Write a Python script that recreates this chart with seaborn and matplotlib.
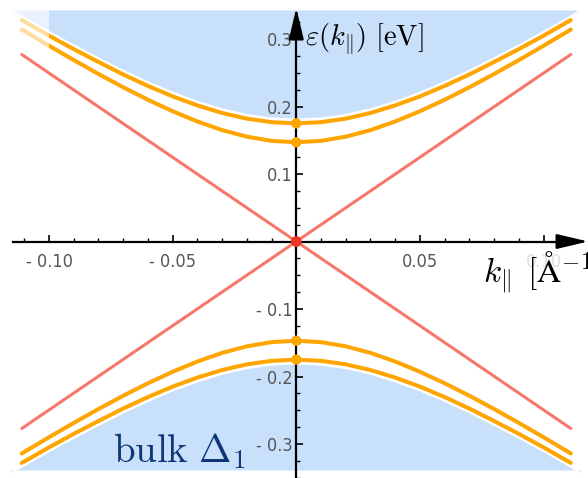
import matplotlib
matplotlib.use("Agg")
import matplotlib.pyplot as plt
import seaborn as sns
import numpy as np
from matplotlib.patches import Rectangle
from matplotlib.ticker import FixedLocator, FixedFormatter
from matplotlib import font_manager

# ---------------- data ----------------
k_band = [-0.111, -0.10, -0.09, -0.08, -0.07, -0.06, -0.05, -0.04, -0.03, -0.02, -0.01, 0.0,
          0.01, 0.02, 0.03, 0.04, 0.05, 0.06, 0.07, 0.08, 0.09, 0.10, 0.111]
upper_outer = [0.328, 0.305, 0.285, 0.266, 0.2475, 0.2305, 0.215, 0.2016, 0.1904, 0.182, 0.1768, 0.175,
               0.1768, 0.182, 0.1904, 0.2016, 0.215, 0.2305, 0.2475, 0.266, 0.285, 0.305, 0.328]
upper_inner = [0.314, 0.290, 0.2688, 0.2482, 0.2285, 0.210, 0.193, 0.1778, 0.165, 0.1553, 0.1491, 0.147,
               0.1491, 0.1553, 0.165, 0.1778, 0.193, 0.210, 0.2285, 0.2482, 0.2688, 0.290, 0.314]
lower_outer = [-v for v in upper_outer]
lower_inner = [-v for v in upper_inner]

k_bulk = [-0.1157, -0.111, -0.10, -0.09, -0.08, -0.07, -0.06, -0.05, -0.04, -0.03, -0.02, -0.01, 0.0,
          0.01, 0.02, 0.03, 0.04, 0.05, 0.06, 0.07, 0.08, 0.09, 0.10, 0.111, 0.1147]
bulk_edge = [0.343, 0.334, 0.311, 0.291, 0.272, 0.2535, 0.2365, 0.221, 0.2076, 0.1964, 0.188, 0.1828, 0.181,
             0.1828, 0.188, 0.1964, 0.2076, 0.221, 0.2365, 0.2535, 0.272, 0.291, 0.311, 0.334, 0.343]
bulk_top = 0.343
bulk_bottom = -0.3385

k_dirac = [-0.111, 0.0, 0.111]
dirac_down = [0.277, 0.0, -0.277]
dirac_up = [-0.277, 0.0, 0.277]

dot_k = [0.0, 0.0, 0.0, 0.0]
dot_E = [0.175, 0.147, -0.147, -0.175]

xtick_vals = [-0.10, -0.05, 0.05, 0.10]
xtick_labels = ["- 0.10", "- 0.05", "0.05", "0.10"]
ytick_vals = [-0.3, -0.2, -0.1, 0.1, 0.2, 0.3]
ytick_labels = ["- 0.3", "- 0.2", "- 0.1", "0.1", "0.2", "0.3"]
xminor_vals = [-0.11, -0.09, -0.08, -0.07, -0.06, -0.04, -0.03, -0.02, -0.01,
               0.01, 0.02, 0.03, 0.04, 0.06, 0.07, 0.08, 0.09, 0.11]
yminor_vals = [-0.35, -0.325, -0.275, -0.25, -0.225, -0.175, -0.15, -0.125, -0.075, -0.05, -0.025,
               0.025, 0.05, 0.075, 0.125, 0.15, 0.175, 0.225, 0.25, 0.275, 0.325]

# ---------------- style ----------------
sns.set_theme(style="white")
plt.rcParams["font.family"] = ["Liberation Sans", "DejaVu Sans"]
plt.rcParams["mathtext.fontset"] = "cm"

names = {f.name for f in font_manager.fontManager.ttflist}
dv_cond = any(f.name == "DejaVu Sans" and str(f.stretch) in ("condensed", "semi-condensed")
              for f in font_manager.fontManager.ttflist)
if "Liberation Sans Narrow" in names:
    tick_fp = font_manager.FontProperties(family="Liberation Sans Narrow", size=15)
elif dv_cond:
    tick_fp = font_manager.FontProperties(family="DejaVu Sans", stretch="condensed", size=13)
else:
    tick_fp = font_manager.FontProperties(family="Liberation Sans", size=12)

BLUE = "#c9e0fa"
ORANGE = "#ffa500"
SALMON = "#f7776a"
RED = "#ec3526"
GRAY = "#555555"

XL = (-0.11982, 0.11796)
YL = (-0.35037, 0.35778)

fig = plt.figure(figsize=(5.88, 4.78), dpi=100)
ax = fig.add_axes([0, 0, 1, 1])
ax.set_xlim(XL)
ax.set_ylim(YL)
ax.set_facecolor("white")
ax.set_axisbelow(False)

# bulk regions
ax.fill_between(k_bulk, bulk_edge, bulk_top, color=BLUE, lw=0, zorder=1)
ax.fill_between(k_bulk, [-v for v in bulk_edge], bulk_bottom, color=BLUE, lw=0, zorder=1)
sns.lineplot(x=k_bulk, y=bulk_edge, ax=ax, color="white", lw=1.0, sort=False, estimator=None, zorder=2)
sns.lineplot(x=k_bulk, y=[-v for v in bulk_edge], ax=ax, color="white", lw=1.0, sort=False, estimator=None, zorder=2)

# Dirac cone
for ys in (dirac_down, dirac_up):
    sns.lineplot(x=k_dirac, y=ys, ax=ax, color=SALMON, lw=2.2, sort=False, estimator=None, zorder=3)

# surface bands
for ys in (upper_outer, upper_inner, lower_outer, lower_inner):
    sns.lineplot(x=k_band, y=ys, ax=ax, color=ORANGE, lw=2.9, sort=False, estimator=None, zorder=4)

# fade box in top-left corner
ax.add_patch(Rectangle((XL[0], 0.284), -0.1 - XL[0], YL[1] - 0.284,
                       facecolor="white", alpha=0.62, lw=0, zorder=5))

# axes
for s in ("top", "right"):
    ax.spines[s].set_visible(False)
ax.spines["left"].set_position(("data", 0))
ax.spines["bottom"].set_position(("data", 0))
ax.spines["left"].set_bounds(YL[0], 0.31)
ax.spines["bottom"].set_bounds(-0.1146, 0.1108)
for s in ("left", "bottom"):
    ax.spines[s].set_color("black")
    ax.spines[s].set_linewidth(1.6)
    ax.spines[s].set_zorder(6)
ax.xaxis.set_zorder(6)
ax.yaxis.set_zorder(6)

ax.annotate("", xy=(0, 0.346), xytext=(0, 0.30),
            arrowprops=dict(arrowstyle="-|>,head_length=1.6,head_width=0.38",
                            color="black", lw=1.6, shrinkA=0, shrinkB=0), zorder=7)
ax.annotate("", xy=(0.1180, 0), xytext=(0.108, 0),
            arrowprops=dict(arrowstyle="-|>,head_length=1.6,head_width=0.38",
                            color="black", lw=1.6, shrinkA=0, shrinkB=0), zorder=7)

ax.xaxis.set_major_locator(FixedLocator(xtick_vals))
ax.xaxis.set_major_formatter(FixedFormatter(xtick_labels))
ax.xaxis.set_minor_locator(FixedLocator(xminor_vals))
ax.yaxis.set_major_locator(FixedLocator(ytick_vals))
ax.yaxis.set_major_formatter(FixedFormatter(ytick_labels))
ax.yaxis.set_minor_locator(FixedLocator(yminor_vals))

ax.tick_params(axis="x", which="major", direction="in", length=5, width=1.2, color="black",
               labelcolor=GRAY, pad=8, bottom=True)
ax.tick_params(axis="x", which="minor", direction="in", length=3, width=1.0, color="black", bottom=True)
ax.tick_params(axis="y", which="major", direction="in", length=5, width=1.2, color="black",
               labelcolor=GRAY, pad=3, left=True)
ax.tick_params(axis="y", which="minor", direction="in", length=3, width=1.0, color="black", left=True)
ax.set_xlabel("")
ax.set_ylabel("")

fig.canvas.draw()
for lab in ax.get_xticklabels() + ax.get_yticklabels():
    lab.set_fontproperties(tick_fp)
ax.get_xticklabels()[3].set_color("#dedede")

# markers
sns.scatterplot(x=dot_k, y=dot_E, ax=ax, color=ORANGE, s=55, edgecolor="none", zorder=8)
sns.scatterplot(x=[0.0], y=[0.0], ax=ax, color=RED, s=60, edgecolor="none", zorder=9)

# labels
fig.text(305 / 588, 1 - 45 / 478, r"$\varepsilon(k_{\Vert})\ [\mathrm{eV}]$", fontsize=20.5,
         ha="left", va="baseline", color="black", zorder=10)
fig.text(483 / 588, 1 - 283 / 478, r"$k_{\Vert}\;\, [\mathrm{\AA}^{-1}]$", fontsize=24,
         ha="left", va="baseline", color="black", zorder=10)
fig.text(113 / 588, 1 - 462 / 478, r"$\mathrm{bulk}\ \Delta_1$", fontsize=28,
         ha="left", va="baseline", color="#0f3778", zorder=10)

fig.savefig("out.png", dpi=100)
